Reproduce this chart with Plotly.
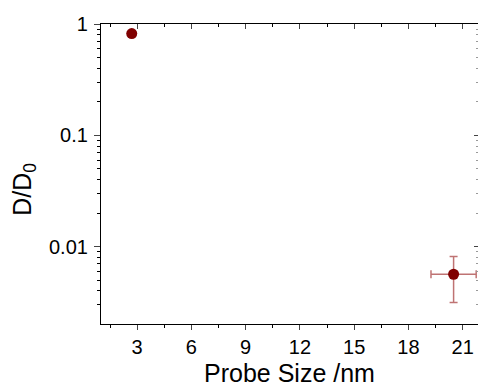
import plotly.graph_objects as go

# Probe size (nm) and normalised diffusion coefficient D/D0
probe_size = [2.7, 20.5]
d_ratio = [0.82, 0.00565]
size_err = [0.0, 1.25]
ratio_err = [0.0, 0.0025]

x_ticks = [3, 6, 9, 12, 15, 18, 21]
y_ticks = [0.01, 0.1, 1]
y_tick_text = ["0.01", "0.1", "1"]
y_minor = [m * d for d in [0.001, 0.01, 0.1] for m in range(2, 10)]
x_minor = [1.5 + 3 * i for i in range(7)]

FONT = "Liberation Sans, Arial, sans-serif"
MARK = "#800000"
ERR = "rgba(139,0,0,0.55)"

x_range = [1.0, 21.85]
y_range = [-2.695, 0.0]

fig = go.Figure()
fig.add_trace(go.Scatter(
    x=probe_size, y=d_ratio, mode="markers",
    marker=dict(color=MARK, size=11),
    error_x=dict(type="data", array=size_err, color=ERR, thickness=1.5, width=4),
    error_y=dict(type="data", array=ratio_err, color=ERR, thickness=1.5, width=4),
    showlegend=False, cliponaxis=False,
))
# invisible copy so the mirrored top/right axes are drawn
fig.add_trace(go.Scatter(
    x=probe_size, y=d_ratio, mode="markers", xaxis="x2", yaxis="y2",
    marker=dict(opacity=0), showlegend=False, hoverinfo="skip",
))

fig.update_layout(
    width=478, height=391,
    margin=dict(l=101, r=0, t=24, b=67),
    paper_bgcolor="white", plot_bgcolor="white",
    font=dict(family=FONT, size=20, color="black"),
    xaxis=dict(
        range=x_range, tickvals=x_ticks, ticks="outside", ticklen=5, tickwidth=1,
        showline=True, linecolor="black", linewidth=1.2, showgrid=False, zeroline=False,
        minor=dict(tickvals=x_minor, ticks="outside", ticklen=3,
                   tickcolor="black", showgrid=False),
        title=dict(text="Probe Size /nm", font=dict(size=25), standoff=7),
        tickfont=dict(size=20),
    ),
    yaxis=dict(
        type="log", range=y_range, tickvals=y_ticks, ticktext=y_tick_text,
        ticks="outside", ticklen=6, tickwidth=1,
        showline=True, linecolor="black", linewidth=1.2, showgrid=False, zeroline=False,
        minor=dict(tickvals=y_minor, ticks="outside", ticklen=3, tickcolor="black",
                   showgrid=False),
        tickfont=dict(size=20), ticklabelstandoff=2,
    ),
    xaxis2=dict(
        overlaying="x", side="top", range=x_range, tickvals=x_ticks, ticks="inside",
        ticklen=5, showticklabels=False, showline=True, linecolor="black", linewidth=1.2,
        showgrid=False, zeroline=False,
        minor=dict(tickvals=x_minor, ticks="inside", ticklen=3,
                   tickcolor="black", showgrid=False),
    ),
    yaxis2=dict(
        overlaying="y", side="right", type="log", range=y_range, tickvals=y_ticks,
        ticks="inside", ticklen=4, showticklabels=False, showline=False,
        showgrid=False, zeroline=False,
        minor=dict(tickvals=y_minor, ticks="inside", ticklen=2, tickcolor="#999999",
                   showgrid=False),
    ),
    annotations=[dict(
        text="D/D<sub>0</sub>", textangle=-90, showarrow=False,
        xref="paper", yref="paper", x=-0.205, y=0.45,
        xanchor="center", yanchor="middle", font=dict(size=25),
    )],
)

fig.write_html("out.html")
